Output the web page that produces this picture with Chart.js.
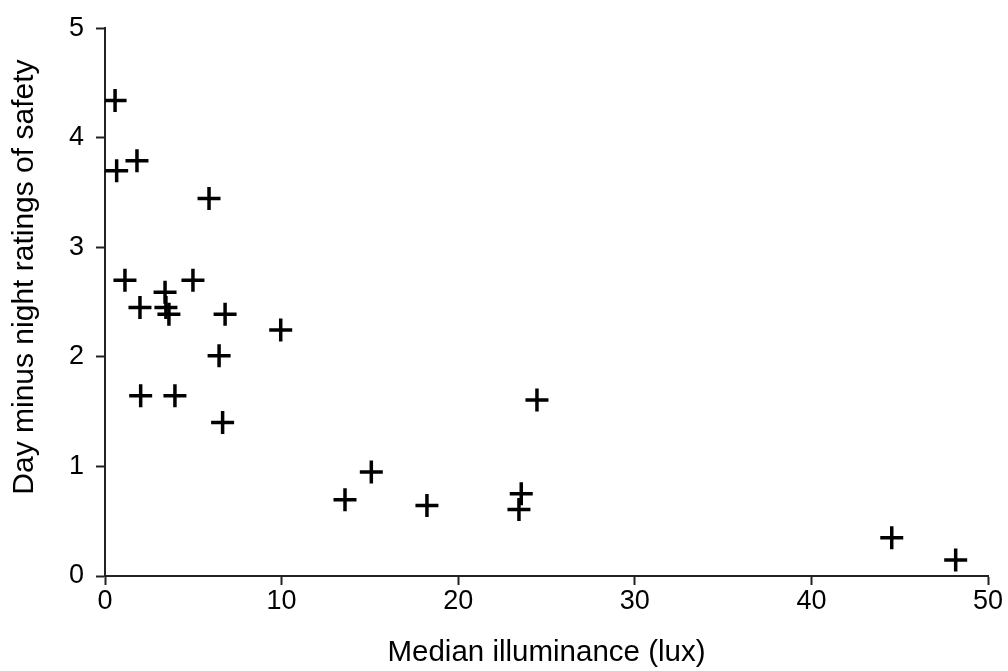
<!DOCTYPE html>
<html>
<head>
<meta charset="utf-8">
<script src="https://cdn.jsdelivr.net/npm/chart.js@4/dist/chart.umd.min.js"></script>
<style>
html,body{margin:0;padding:0;background:#fff;}
#wrap{width:1008px;height:671px;position:relative;}
</style>
</head>
<body>
<div id="wrap"><canvas id="c" width="1008" height="671"></canvas></div>
<script>
const illuminance = [0.57, 0.66, 1.81, 5.89, 1.13, 4.98, 3.40, 1.98, 3.45, 3.62, 6.80, 9.95, 6.46, 2.02, 3.96, 6.66, 24.46, 15.08, 13.59, 18.23, 23.57, 23.44, 44.55, 48.17];
const safetyDiff = [4.34, 3.70, 3.79, 3.445, 2.70, 2.70, 2.59, 2.45, 2.45, 2.39, 2.39, 2.245, 2.01, 1.645, 1.645, 1.40, 1.606, 0.95, 0.697, 0.643, 0.75, 0.606, 0.35, 0.145];
const xTicks = [0, 10, 20, 30, 40, 50];
const yTicks = [0, 1, 2, 3, 4, 5];
const xTitle = 'Median illuminance (lux)';
const yTitle = 'Day minus night ratings of safety';

const points = illuminance.map((x, i) => ({x: x, y: safetyDiff[i]}));
const fontFam = '"Liberation Sans", Arial, sans-serif';

// y-axis title drawn slightly above the axis centre, as in the reference
const yTitlePlugin = {
  id: 'yTitlePlugin',
  afterDraw(chart) {
    const ctx = chart.ctx;
    const area = chart.chartArea;
    const cy = (area.top + area.bottom) / 2 - 25;
    ctx.save();
    ctx.translate(25, cy);
    ctx.rotate(-Math.PI / 2);
    ctx.font = '30px ' + fontFam;
    ctx.fillStyle = '#000';
    ctx.textAlign = 'center';
    ctx.textBaseline = 'middle';
    ctx.fillText(yTitle, 0, 0);
    ctx.restore();
  }
};

new Chart(document.getElementById('c'), {
  type: 'scatter',
  data: {
    datasets: [{
      data: points,
      pointStyle: 'cross',
      pointRadius: 11.5,
      pointHoverRadius: 11.5,
      borderColor: '#000',
      backgroundColor: '#000',
      pointBorderWidth: 3.5,
      borderWidth: 3.5
    }]
  },
  plugins: [yTitlePlugin],
  options: {
    responsive: false,
    animation: false,
    events: [],
    layout: {padding: {left: 0, right: 20, top: 25, bottom: 0}},
    plugins: {legend: {display: false}, tooltip: {enabled: false}},
    scales: {
      x: {
        type: 'linear',
        min: 0, max: 50,
        afterFit: s => { s.height = 95; },
        afterBuildTicks: s => { s.ticks = xTicks.map(v => ({value: v})); },
        grid: {display: true, drawOnChartArea: false, drawTicks: true, tickLength: 9, tickWidth: 2, color: '#222'},
        border: {display: true, color: '#222', width: 2},
        ticks: {color: '#000', font: {family: fontFam, size: 27}, padding: 0, maxRotation: 0},
        title: {display: true, text: xTitle, color: '#000', font: {family: fontFam, size: 29.5}, padding: {top: 0, bottom: 0}}
      },
      y: {
        type: 'linear',
        min: 0, max: 5,
        afterFit: s => { s.width = 105; },
        afterBuildTicks: s => { s.ticks = yTicks.map(v => ({value: v})); },
        grid: {display: true, drawOnChartArea: false, drawTicks: true, tickLength: 9, tickWidth: 2, color: '#222'},
        border: {display: true, color: '#222', width: 2},
        ticks: {color: '#000', font: {family: fontFam, size: 27}, padding: 12},
        title: {display: false}
      }
    }
  }
});
</script>
</body>
</html>
